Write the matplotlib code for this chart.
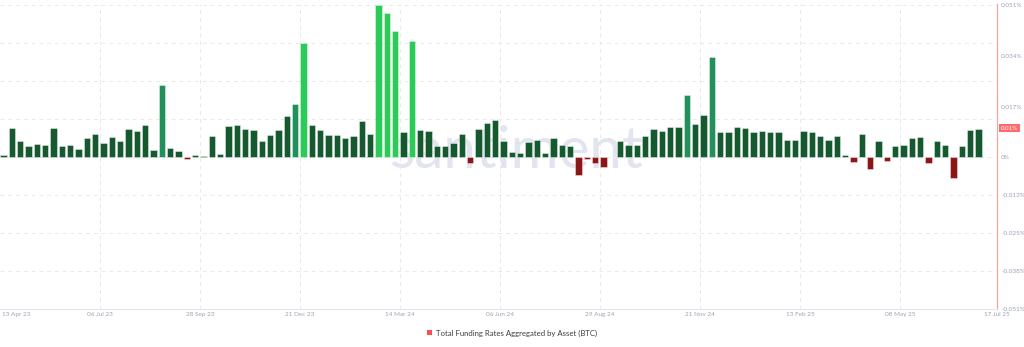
import matplotlib
matplotlib.use("Agg")
import matplotlib.pyplot as plt
import matplotlib.dates as mdates
from matplotlib.patches import Patch
import matplotlib.transforms as mtransforms
import pandas as pd
import numpy as np

# Weekly aggregated BTC funding rate, in percent
start_date = "2023-04-13"
funding_rate = [
    0.0007, 0.0098, 0.0056, 0.0038, 0.0045, 0.0042, 0.0098, 0.0039, 0.0042, 0.0028,
    0.0065, 0.0077, 0.0048, 0.0069, 0.0055, 0.0096, 0.0089, 0.0108, 0.0025, 0.0243,
    0.0032, 0.0020, -0.0005, 0.0007, 0.0004, 0.0073, 0.0010, 0.0106, 0.0108, 0.0094,
    0.0091, 0.0055, 0.0076, 0.0091, 0.0138, 0.0179, 0.0385, 0.0108, 0.0091, 0.0075,
    0.0076, 0.0065, 0.0072, 0.0123, 0.0078, 0.0512, 0.0485, 0.0424, 0.0084, 0.0391,
    0.0091, 0.0087, 0.0037, 0.0039, 0.0047, 0.0077, -0.0020, 0.0096, 0.0116, 0.0126,
    0.0053, 0.0017, 0.0015, 0.0051, 0.0059, 0.0015, 0.0064, 0.0041, 0.0039, -0.0060,
    -0.0007, -0.0020, -0.0033, 0.0000, 0.0055, 0.0040, 0.0041, 0.0073, 0.0096, 0.0087,
    0.0103, 0.0103, 0.0210, 0.0112, 0.0142, 0.0336, 0.0086, 0.0086, 0.0101, 0.0097,
    0.0086, 0.0087, 0.0084, 0.0084, 0.0059, 0.0059, 0.0088, 0.0085, 0.0070, 0.0058,
    0.0070, 0.0008, -0.0017, 0.0079, -0.0040, 0.0056, -0.0012, 0.0039, 0.0042, 0.0066,
    0.0068, -0.0019, 0.0056, 0.0040, -0.0069, 0.0038, 0.0091, 0.0096,
]
tick_dates = ["2023-07-06", "2023-09-28", "2023-12-21", "2024-03-14", "2024-06-06",
              "2024-08-29", "2024-11-21", "2025-02-13", "2025-05-08"]
first_label = "13 Apr 23"
last_label = "17 Jul 25"
ytick_values = [0.051, 0.034, 0.017, 0.0, -0.01275, -0.0255, -0.03825, -0.051]
ytick_labels = ["0.051%", "0.034%", "0.017%", "0%", "-0.013%", "-0.025%", "-0.038%", "-0.051%"]
current_value = 0.0097
current_label = "0.01%"
series_name = "Total Funding Rates Aggregated by Asset (BTC)"

plt.rcParams["font.family"] = ["Lato", "DejaVu Sans"]

dates = pd.date_range(start_date, periods=len(funding_rate), freq="7D")
values = np.array(funding_rate)

DARK = "#145a2e"
MID = "#22905a"
BRIGHT = "#2ccb57"
RED = "#8c1518"
colors = [RED if v < 0 else BRIGHT if v >= 0.035 else MID if v >= 0.017 else DARK
          for v in values]

fig = plt.figure(figsize=(10.24, 3.47), dpi=100)
ax = fig.add_axes([0.0, (347 - 309) / 347, 997 / 1024, 305 / 347])

x0 = mdates.date2num(pd.Timestamp(start_date))
ax.set_xlim(x0, x0 + 997 / 100 * 84)
ax.set_ylim(-0.051, 0.0515)

# watermark
ax.text(0.518, 0.515, "santiment", transform=ax.transAxes, ha="center", va="center",
        fontsize=42, color="#e2e5ef", zorder=0)

# grid
for k in range(-4, 5):
    ax.axhline(k * 0.01275, color="#e9e9e9", lw=0.7, ls=(0, (4, 4)), zorder=1)
for d in tick_dates:
    ax.axvline(mdates.date2num(pd.Timestamp(d)), color="#e9e9e9", lw=0.7,
               ls=(0, (4, 4)), zorder=1)

ax.bar(mdates.date2num(dates) + 0.25, values, width=5.3, align="edge",
       color=colors, edgecolor=(1, 1, 1, 0.55), linewidth=0.5, zorder=2)

for s in ["top", "left"]:
    ax.spines[s].set_visible(False)
ax.spines["bottom"].set_color("#e6e6e6")
ax.spines["bottom"].set_linewidth(0.8)
ax.spines["right"].set_color("#f6a3a3")
ax.spines["right"].set_linewidth(0.9)

LABEL_PAD = 2.5
ax.set_xticks([mdates.date2num(pd.Timestamp(d)) for d in tick_dates])
ax.set_xticklabels([pd.Timestamp(d).strftime("%d %b %y") for d in tick_dates])
ax.tick_params(axis="x", length=0, pad=LABEL_PAD, labelsize=4.6, labelcolor="#9aa2b6")
below = ax.transAxes + mtransforms.ScaledTranslation(0, -LABEL_PAD / 72, fig.dpi_scale_trans)
ax.text(2 / 997, 0, first_label, transform=below, ha="left", va="top",
        fontsize=4.6, color="#9aa2b6")
ax.text(1.0, 0, last_label, transform=below, ha="center", va="top",
        fontsize=4.6, color="#9aa2b6")

ax.yaxis.tick_right()
ax.set_yticks(ytick_values)
ax.set_yticklabels(ytick_labels)
ax.tick_params(axis="y", length=0, pad=3, labelsize=4.6, labelcolor="#9aa2b6")

trans = mtransforms.blended_transform_factory(ax.transAxes, ax.transData)
ax.text(1.0 + 4 / 997, current_value, current_label, transform=trans, ha="left",
        va="center", fontsize=4.4, color="white", zorder=5,
        bbox=dict(boxstyle="square,pad=0.25", fc="#ff6b6b", ec="none"))

fig.legend(handles=[Patch(facecolor="#ff4d4d", edgecolor="none", label=series_name)],
           loc="center", bbox_to_anchor=(512 / 1024, 1 - 333 / 347), frameon=False,
           fontsize=5.6, handlelength=0.7, handleheight=0.7, handletextpad=0.5,
           labelcolor="#3c3c3c")

fig.savefig("out.png", dpi=100, facecolor="white")
